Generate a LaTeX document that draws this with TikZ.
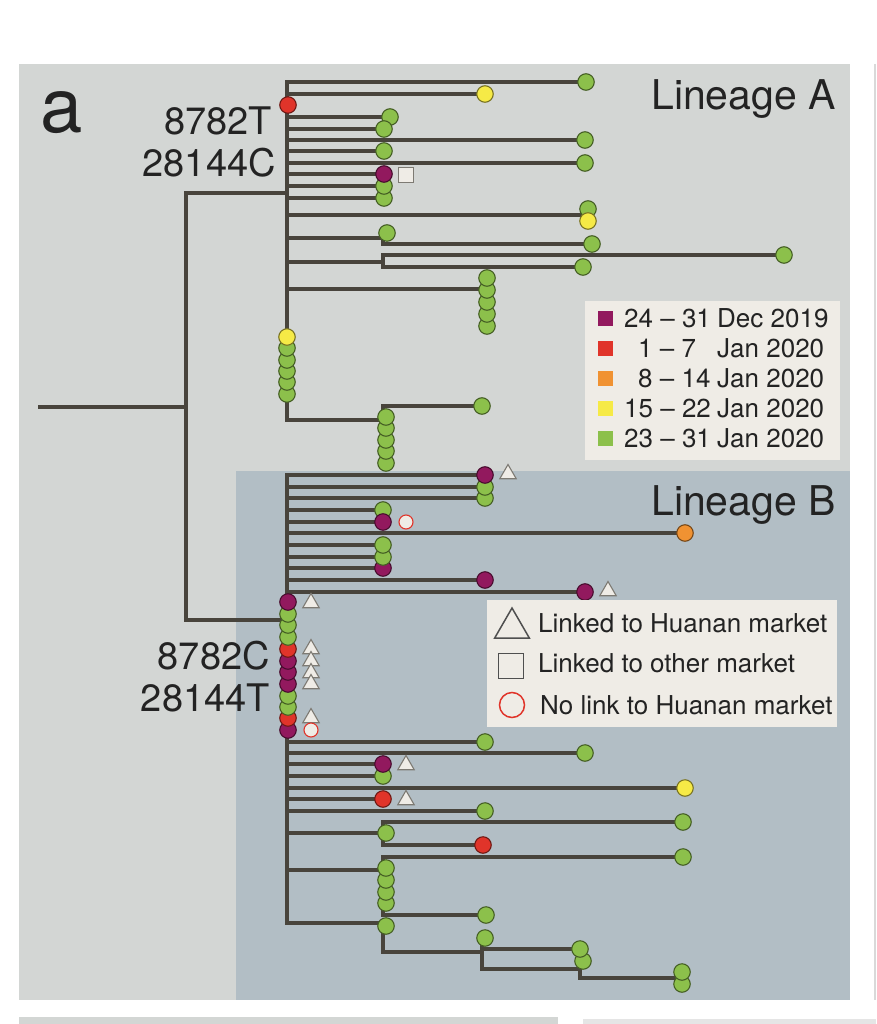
\documentclass[tikz,border=0pt]{standalone}
\usepackage{fontspec}
\setmainfont{TeX Gyre Heros}
\usetikzlibrary{shapes.geometric}
\definecolor{cP}{RGB}{146,25,94}
\definecolor{cR}{RGB}{224,52,42}
\definecolor{cO}{RGB}{240,146,50}
\definecolor{cY}{RGB}{246,234,70}
\definecolor{cG}{RGB}{140,192,75}
\definecolor{panelA}{RGB}{211,214,212}
\definecolor{panelB}{RGB}{178,190,197}
\definecolor{legbg}{RGB}{239,236,230}
\definecolor{edgec}{RGB}{72,68,60}
\definecolor{txt}{RGB}{35,35,35}
\definecolor{mk}{RGB}{125,122,115}
\pgfdeclarelayer{back}
\pgfdeclarelayer{edges}
\pgfsetlayers{back,edges,main}
\tikzset{
  br/.style={line width=4pt, draw=edgec, line cap=rect},
  tip/.style={circle, inner sep=0pt, minimum size=16.5pt, fill=#1, draw=#1!50!black, line width=1.1pt},
  tri/.style={regular polygon, regular polygon sides=3, inner sep=0pt, minimum size=19pt, fill=legbg, draw=mk, line width=1.1pt},
  sq/.style={rectangle, inner sep=0pt, minimum size=15pt, fill=legbg, draw=mk, line width=1.1pt},
  ocirc/.style={circle, inner sep=0pt, minimum size=14pt, fill=legbg, draw=cR, line width=1.1pt},
  mut/.style={inner sep=0pt, anchor=base east, text=txt, font=\fontsize{38}{38}\selectfont},
  lin/.style={inner sep=0pt, anchor=base west, text=txt, font=\fontsize{41}{41}\selectfont},
  legtxt/.style={inner sep=0pt, anchor=base west, text=txt, font=\fontsize{26}{26}\selectfont},
  legsq/.style={rectangle, inner sep=0pt, minimum size=15pt, fill=#1},
}
\begin{document}
\begin{tikzpicture}[x=1pt,y=-1pt]
\useasboundingbox (0,0) rectangle (876,1024);
\begin{pgfonlayer}{back}
\fill[white] (0,0) rectangle (876,1024);
\fill[panelA] (19,64) rectangle (850,1000);
\fill[panelB] (236,471) rectangle (850,1000);
\fill[panelA] (19,1017) rectangle (558,1024);
\fill[black!10] (583,1019) rectangle (876,1024);
\draw[black!15, line width=1.5pt] (875,64) -- (875,1000);
\end{pgfonlayer}

% ---------- key coordinates ----------
\coordinate (R0) at (40,407);
\coordinate (R) at (186,407);
\coordinate (RA) at (186,193);
\coordinate (RB) at (186,620);
\coordinate (A) at (287,193);
\coordinate (Atop) at (287,82);
\coordinate (Abot) at (287,420);
\coordinate (B) at (287,620);
\coordinate (Btop) at (287,475);
\coordinate (Bbot) at (287,923);

% ---------- Lineage A tips ----------
\node[tip=cG] (a1) at (586,82) {};
\node[tip=cY] (a2) at (485,94) {};
\node[tip=cG] (a3) at (390,117) {};
\node[tip=cG] (a4) at (384,129) {};
\node[tip=cG] (a5) at (585,140) {};
\node[tip=cG] (a6) at (384,151) {};
\node[tip=cG] (a7) at (585,163) {};
\node[tip=cG] (a10) at (384,198) {};
\node[tip=cG] (a9) at (384,186) {};
\node[tip=cP] (a8) at (384,174) {};
\node[sq] (q1) at (406,175) {};
\node[tip=cG] (a11) at (588,209) {};
\node[tip=cY] (a12) at (588,221) {};
\coordinate (c11) at (585,215);
\coordinate (n1) at (383,238);
\node[tip=cG] (a13) at (387,233) {};
\node[tip=cG] (a14) at (592,244) {};
\coordinate (n2) at (383,262);
\node[tip=cG] (a15) at (784,255) {};
\node[tip=cG] (a16) at (583,267) {};
\coordinate (n3) at (487,289);
\foreach \y [count=\i] in {326,314,302,290,278}
  \node[tip=cG] (sa\i) at (487,\y) {};
\foreach \y [count=\i] in {394,382,371,360,348}
  \node[tip=cG] (ba\i) at (287,\y) {};
\node[tip=cY] (ba6) at (287,337) {};
\node[tip=cR] (aR) at (288,105) {};
\coordinate (n4) at (383,420);
\node[tip=cG] (a17) at (482,406) {};
\foreach \y [count=\i] in {463,451,440,428,417}
  \node[tip=cG] (sb\i) at (386,\y) {};

% ---------- Lineage B tips ----------
\node[tip=cG] (b3) at (485,498) {};
\node[tip=cG] (b2) at (485,487) {};
\node[tip=cP] (b1) at (485,475) {};
\node[tri] (t1) at (508,474) {};
\node[tip=cG] (b4) at (383,510) {};
\node[tip=cP] (b5) at (383,522) {};
\node[ocirc] (o1) at (406,522) {};
\node[tip=cO] (b6) at (685,533) {};
\node[tip=cP] (b9) at (383,568) {};
\node[tip=cG] (b8) at (383,557) {};
\node[tip=cG] (b7) at (383,545) {};
\node[tip=cP] (b10) at (485,580) {};
\node[tip=cP] (b11) at (585,592) {};
\node[tri] (t2) at (608,591) {};
\foreach \y/\c [count=\i] in {730/cP,718/cR,707/cG,696/cG,684/cP,672/cP,661/cP,649/cR,637/cG,625/cG,614/cG,602/cP}
  \node[tip=\c] (bb\i) at (288,\y) {};
\foreach \y [count=\i] in {603,649,661,673,684,718}
  \node[tri] (tb\i) at (311,\y) {};
\node[ocirc] (o2) at (311,730) {};
\node[tip=cG] (b12) at (485,742) {};
\node[tip=cG] (b13) at (585,753) {};
\node[tip=cG] (b15) at (383,776) {};
\node[tip=cP] (b14) at (383,764) {};
\node[tri] (t3) at (406,765) {};
\node[tip=cY] (b16) at (685,788) {};
\node[tip=cR] (b17) at (383,799) {};
\node[tri] (t4) at (406,800) {};
\node[tip=cG] (b18) at (485,811) {};
\coordinate (n5) at (383,833);
\node[tip=cG] (b19) at (386,833) {};
\node[tip=cG] (b20) at (683,822) {};
\node[tip=cR] (b21) at (483,845) {};
\coordinate (n6) at (383,870);
\node[tip=cG] (b22) at (683,857) {};
\foreach \y [count=\i] in {903,892,880,868}
  \node[tip=cG] (sc\i) at (386,\y) {};
\node[tip=cG] (b23) at (486,915) {};
\node[tip=cG] (b24) at (386,926) {};
\coordinate (n7) at (383,952);
\coordinate (n8) at (482,952);
\node[tip=cG] (b25) at (485,938) {};
\node[tip=cG] (b27) at (583,961) {};
\node[tip=cG] (b26) at (580,949) {};
\coordinate (n9) at (580,969);
\coordinate (n10) at (580,978);
\node[tip=cG] (b29) at (682,984) {};
\node[tip=cG] (b28) at (682,972) {};

% ---------- edges ----------
\begin{pgfonlayer}{edges}
\draw[br] (R0) -- (R);
\draw[br] (RA) -- (RB);
\draw[br] (RA) -- (A);
\draw[br] (RB) -- (B);
\draw[br] (Atop) -- (Abot);
\draw[br] (Btop) -- (Bbot);
\foreach \t in {a1,a2,a3,a4,a5,a6,a7,a8,a9,a10}
  \draw[br] (\t -| A) -- (\t.center);
\draw[br] (c11 -| A) -- (c11);
\draw[br] (n1 -| A) -- (n1);
\draw[br] (n1 |- a13) -- (n1 |- a14) -- (a14.center);
\draw[br] (n2 -| A) -- (n2);
\draw[br] (n2 |- a15) -- (a15.center);
\draw[br] (n2 |- a15) -- (n2 |- a16) -- (a16.center);
\draw[br] (n3 -| A) -- (n3);
\draw[br] (Abot) -- (n4);
\draw[br] (n4 |- a17) -- (a17.center);
\draw[br] (n4 |- a17) -- (n4 |- sb1);
\foreach \t in {b1,b2,b3,b4,b5,b6,b7,b8,b9,b10,b11,b12,b13,b14,b15,b16,b17,b18}
  \draw[br] (\t -| B) -- (\t.center);
\draw[br] (n5 -| B) -- (n5);
\draw[br] (n5 |- b20) -- (b20.center);
\draw[br] (n5 |- b20) -- (n5 |- b21) -- (b21.center);
\draw[br] (n6 -| B) -- (n6);
\draw[br] (n6 |- b22) -- (b22.center);
\draw[br] (n6 |- b22) -- (n6 |- b23) -- (b23.center);
\draw[br] (Bbot) -- (Bbot -| n7) -- (n7) -- (n8);
\draw[br] (n8 |- b25) -- (n8 |- n9);
\draw[br] (n8 |- b26) -- (b26.center);
\draw[br] (n8 |- n9) -- (n9) -- (n10) -- (n10 -| b28);
\end{pgfonlayer}

% ---------- labels ----------
\node[inner sep=0pt, anchor=base west, text=txt, font=\fontsize{76}{76}\selectfont] (lbla) at (40,133) {a};
\node[lin] (linA) at (651,110) {Lineage A};
\node[lin] (linB) at (651,515) {Lineage B};
\node[mut] (m1) at (272,135) {8782T};
\node[mut] (m2) at (276,177) {28144C};
\node[mut] (m3) at (270,669) {8782C};
\node[mut] (m4) at (270,711) {28144T};

% ---------- date legend ----------
\node[fill=legbg, inner sep=0pt, minimum width=255pt, minimum height=159pt, anchor=north west] (leg1) at (585,301) {};
\node[legsq=cP] (k1) at (605,318) {};
\node[legsq=cR] (k2) at (605,348) {};
\node[legsq=cO] (k3) at (605,378) {};
\node[legsq=cY] (k4) at (605,408) {};
\node[legsq=cG] (k5) at (605,438) {};
\node[legtxt] (d1) at (624,327) {24 – 31};
\node[legtxt] (d2) at (638,357) {1 – 7};
\node[legtxt] (d3) at (638,387) {8 – 14};
\node[legtxt] (d4) at (624,417) {15 – 22};
\node[legtxt] (d5) at (624,447) {23 – 31};
\node[legtxt] (e1) at (717,327) {Dec 2019};
\node[legtxt] (e2) at (717,357) {Jan 2020};
\node[legtxt] (e3) at (717,387) {Jan 2020};
\node[legtxt] (e4) at (717,417) {Jan 2020};
\node[legtxt] (e5) at (717,447) {Jan 2020};

% ---------- link legend ----------
\node[fill=legbg, inner sep=0pt, minimum width=350pt, minimum height=127pt, anchor=north west] (leg2) at (487,600) {};
\node[regular polygon, regular polygon sides=3, inner sep=0pt, minimum size=40pt, draw=txt!80, line width=1.5pt] (lt) at (512,628) {};
\node[rectangle, inner sep=0pt, minimum size=25pt, draw=txt!80, line width=1.5pt] (ls) at (511,666) {};
\node[circle, inner sep=0pt, minimum size=25pt, draw=cR, line width=1.5pt] (lc) at (512,705) {};
\node[legtxt] (l1) at (538,632) {Linked to Huanan market};
\node[legtxt] (l2) at (538,672) {Linked to other market};
\node[legtxt] (l3) at (540,714) {No link to Huanan market};
\end{tikzpicture}
\end{document}
